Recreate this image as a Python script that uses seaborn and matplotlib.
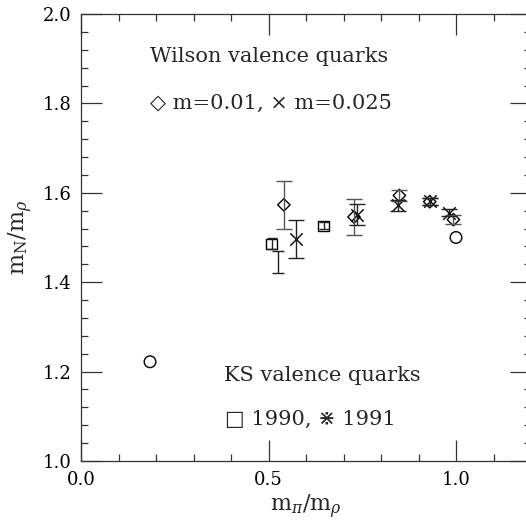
"Nucleon to rho mass ratio vs pion to rho mass ratio"
import numpy as np
import matplotlib
matplotlib.use('Agg')
import matplotlib.pyplot as plt
from matplotlib.path import Path
from matplotlib.ticker import MultipleLocator, FixedLocator
import seaborn as sns

# Wilson valence quarks, m=0.01 (diamonds)
wil1_x = [0.541, 0.728, 0.849, 0.930, 0.993]
wil1_y = [1.573, 1.546, 1.594, 1.580, 1.540]
wil1_err = [0.054, 0.041, 0.012, 0.008, 0.010]

# Wilson valence quarks, m=0.025 (crosses)
wil2_x = [0.572, 0.737, 0.844, 0.930, 0.982]
wil2_y = [1.497, 1.551, 1.572, 1.581, 1.555]
wil2_err = [0.042, 0.024, 0.012, 0.008, 0.008]

# KS valence quarks 1990 (squares) and 1991 (bursts)
ks90_x = [0.508, 0.647]
ks90_y = [1.486, 1.526]
ks90_err = [0.012, 0.008]
ks91_x = [0.524]
ks91_y = [1.445]
ks91_err = [0.024]

# reference points (circles, no errors)
ref_x = [0.184, 1.0]
ref_y = [1.222, 1.500]

x_ticks = [0.0, 0.5, 1.0]
x_ticklabels = ['0.0', '0.5', '1.0']
y_ticks = [1.0, 1.2, 1.4, 1.6, 1.8, 2.0]


def burst_marker():
    verts, codes = [], []
    for a in np.arange(0, 360, 45):
        t = np.deg2rad(a)
        verts += [(0.35 * np.cos(t), 0.35 * np.sin(t)), (np.cos(t), np.sin(t))]
        codes += [Path.MOVETO, Path.LINETO]
    return Path(verts, codes)


sns.set_theme(style='ticks')
plt.rcParams['font.family'] = ['DejaVu Serif', 'DejaVu Sans']
plt.rcParams['mathtext.fontset'] = 'dejavuserif'

fig = plt.figure(figsize=(5.26, 5.27), dpi=100)
ax = fig.add_axes([81 / 526, 1 - 461 / 527, 450 / 526, 447 / 527])

ecol = '#555555'
ax.errorbar(wil1_x, wil1_y, yerr=wil1_err, fmt='none', ecolor=ecol, elinewidth=1.0, capsize=6, capthick=1.0)
ax.errorbar(wil2_x, wil2_y, yerr=wil2_err, fmt='none', ecolor='#222222', elinewidth=1.0, capsize=6, capthick=1.0)
ax.errorbar(ks90_x, ks90_y, yerr=ks90_err, fmt='none', ecolor='#222222', elinewidth=1.0, capsize=3.5, capthick=1.0)
ax.errorbar(ks91_x, ks91_y, yerr=ks91_err, fmt='none', ecolor='#222222', elinewidth=1.0, capsize=4, capthick=1.0)

sns.scatterplot(x=wil1_x, y=wil1_y, marker='D', s=40, facecolors='none', edgecolor='black', linewidth=1.0, ax=ax)
sns.scatterplot(x=wil2_x, y=wil2_y, marker='x', s=80, color='black', linewidth=1.0, ax=ax)
sns.scatterplot(x=ks90_x, y=ks90_y, marker='s', s=55, facecolors='none', edgecolor='black', linewidth=1.0, ax=ax)
sns.scatterplot(x=ks91_x, y=ks91_y, marker=burst_marker(), s=90, color='black', linewidth=0.9, ax=ax)
sns.scatterplot(x=ref_x, y=ref_y, marker='o', s=70, facecolors='none', edgecolor='black', linewidth=1.0, ax=ax)

ax.set_xlim(0, 1.2)
ax.set_ylim(1.0, 2.0)
ax.xaxis.set_major_locator(FixedLocator(x_ticks))
ax.set_xticklabels(x_ticklabels)
ax.xaxis.set_minor_locator(MultipleLocator(0.1))
ax.yaxis.set_major_locator(FixedLocator(y_ticks))
ax.yaxis.set_minor_locator(MultipleLocator(0.04))

ax.tick_params(which='both', direction='in', top=True, right=True, colors='#333333',
               labelcolor='black', labelsize=13, width=0.9)
ax.tick_params(which='major', length=15, pad=7)
ax.tick_params(which='minor', length=5)
for sp in ax.spines.values():
    sp.set_color('#333333')
    sp.set_linewidth(0.9)

ax.set_xlabel(r'$\mathrm{m}_\pi/\mathrm{m}_\rho$', fontsize=16, labelpad=3)
ax.set_ylabel(r'$\mathrm{m_N}/\mathrm{m}_\rho$', fontsize=16, labelpad=5)

ax.text(0.184, 1.905, 'Wilson valence quarks', fontsize=15, va='center')
ax.text(0.184, 1.80, '\u25c7 m=0.01, \u00d7 m=0.025', fontsize=15, va='center')
ax.text(0.382, 1.192, 'KS valence quarks', fontsize=15, va='center')
ax.text(0.385, 1.092, '\u25a1 1990, \u22c7 1991', fontsize=15, va='center')

fig.savefig('out.png', dpi=100)
